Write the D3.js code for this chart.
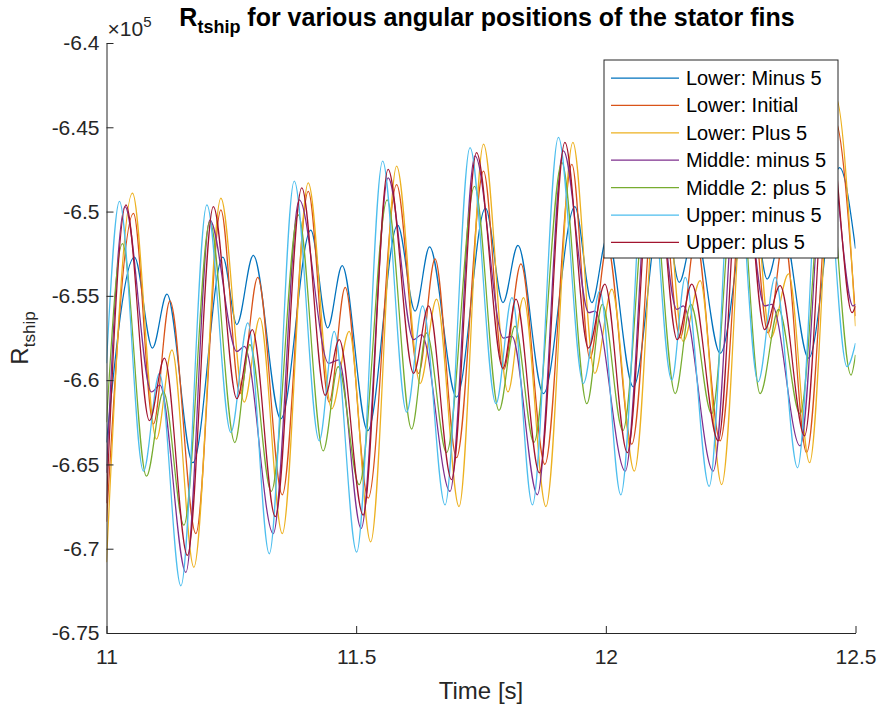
<!DOCTYPE html>
<html>
<head>
<meta charset="utf-8">
<script src="https://cdn.jsdelivr.net/npm/d3@7"></script>
<style>
  html, body { margin: 0; padding: 0; background: #fff; }
  svg { display: block; font-family: "Liberation Sans", Arial, Helvetica, sans-serif; }
</style>
</head>
<body>
<svg id="chart" width="879" height="706"></svg>
<script>
// Resistance R_tship over time, in units of 1e5, as [time (s), value] samples
// taken at the turning points of each signal.
const lowerMinus5 = [
  [11.000,-6.637],[11.056,-6.527],[11.092,-6.581],[11.121,-6.549],[11.173,-6.649],
  [11.233,-6.527],[11.261,-6.567],[11.294,-6.526],[11.349,-6.623],
  [11.409,-6.511],[11.443,-6.569],[11.472,-6.532],[11.523,-6.630],
  [11.583,-6.508],[11.618,-6.559],[11.647,-6.521],[11.701,-6.610],
  [11.759,-6.498],[11.794,-6.554],[11.824,-6.520],[11.875,-6.608],
  [11.938,-6.497],[11.972,-6.554],[12.003,-6.515],[12.055,-6.604],
  [12.114,-6.490],[12.147,-6.542],[12.178,-6.510],[12.229,-6.584],
  [12.290,-6.485],[12.323,-6.540],[12.355,-6.510],[12.406,-6.587],
  [12.468,-6.474],[12.500,-6.522]
];
const lowerInitial = [
  [11.000,-6.684],[11.054,-6.501],[11.094,-6.626],[11.127,-6.553],[11.179,-6.691],
  [11.229,-6.499],[11.267,-6.608],[11.303,-6.539],[11.352,-6.668],
  [11.404,-6.488],[11.446,-6.613],[11.478,-6.545],[11.524,-6.670],
  [11.581,-6.484],[11.625,-6.596],[11.658,-6.528],[11.701,-6.646],
  [11.755,-6.476],[11.795,-6.594],[11.830,-6.531],[11.878,-6.650],
  [11.932,-6.472],[11.968,-6.587],[12.003,-6.520],[12.052,-6.638],
  [12.105,-6.465],[12.149,-6.575],[12.180,-6.515],[12.229,-6.636],
  [12.282,-6.458],[12.325,-6.572],[12.357,-6.515],[12.402,-6.643],
  [12.458,-6.445],[12.500,-6.562]
];
const lowerPlus5 = [
  [11.000,-6.708],[11.052,-6.489],[11.100,-6.635],[11.131,-6.582],[11.175,-6.711],
  [11.229,-6.492],[11.276,-6.613],[11.307,-6.563],[11.352,-6.691],
  [11.404,-6.483],[11.451,-6.617],[11.486,-6.571],[11.529,-6.696],
  [11.581,-6.473],[11.628,-6.602],[11.661,-6.552],[11.706,-6.675],
  [11.755,-6.460],[11.804,-6.607],[11.835,-6.551],[11.880,-6.675],
  [11.934,-6.459],[11.978,-6.596],[12.012,-6.546],[12.057,-6.654],
  [12.110,-6.450],[12.155,-6.577],[12.189,-6.541],[12.232,-6.662],
  [12.285,-6.445],[12.330,-6.575],[12.366,-6.537],[12.408,-6.649],
  [12.460,-6.432],[12.500,-6.568]
];
const middleMinus5 = [
  [11.000,-6.655],[11.037,-6.497],[11.090,-6.607],[11.107,-6.603],[11.159,-6.714],
  [11.207,-6.505],[11.261,-6.583],[11.276,-6.580],[11.334,-6.691],
  [11.386,-6.493],[11.445,-6.590],[11.465,-6.588],[11.510,-6.688],
  [11.564,-6.480],[11.615,-6.576],[11.631,-6.573],[11.688,-6.666],
  [11.738,-6.467],[11.795,-6.575],[11.812,-6.574],[11.863,-6.668],
  [11.915,-6.464],[11.966,-6.560],[11.978,-6.559],[12.039,-6.654],
  [12.092,-6.458],[12.142,-6.558],[12.155,-6.556],[12.215,-6.654],
  [12.268,-6.455],[12.318,-6.556],[12.332,-6.555],[12.389,-6.639],
  [12.443,-6.450],[12.495,-6.556],[12.500,-6.555]
];
const middle2Plus5 = [
  [11.000,-6.625],[11.032,-6.519],[11.080,-6.657],[11.114,-6.607],[11.155,-6.686],
  [11.207,-6.506],[11.257,-6.637],[11.287,-6.579],[11.330,-6.666],
  [11.384,-6.502],[11.434,-6.642],[11.464,-6.592],[11.506,-6.662],
  [11.562,-6.493],[11.611,-6.629],[11.641,-6.572],[11.681,-6.643],
  [11.737,-6.485],[11.786,-6.618],[11.818,-6.568],[11.856,-6.637],
  [11.912,-6.471],[11.962,-6.614],[11.993,-6.555],[12.034,-6.630],
  [12.088,-6.468],[12.139,-6.608],[12.170,-6.555],[12.212,-6.620],
  [12.263,-6.462],[12.309,-6.608],[12.346,-6.558],[12.389,-6.620],
  [12.440,-6.458],[12.491,-6.597],[12.500,-6.585]
];
const upperMinus5 = [
  [11.000,-6.590],[11.026,-6.494],[11.074,-6.654],[11.106,-6.596],[11.149,-6.722],
  [11.201,-6.496],[11.249,-6.631],[11.283,-6.566],[11.326,-6.703],
  [11.376,-6.482],[11.426,-6.636],[11.456,-6.571],[11.501,-6.702],
  [11.553,-6.470],[11.601,-6.619],[11.633,-6.556],[11.678,-6.674],
  [11.728,-6.462],[11.780,-6.614],[11.812,-6.551],[11.853,-6.674],
  [11.905,-6.456],[11.955,-6.602],[11.988,-6.547],[12.030,-6.668],
  [12.082,-6.452],[12.132,-6.600],[12.159,-6.539],[12.207,-6.663],
  [12.257,-6.448],[12.305,-6.601],[12.339,-6.539],[12.384,-6.652],
  [12.433,-6.445],[12.483,-6.592],[12.500,-6.578]
];
const upperPlus5 = [
  [11.000,-6.673],[11.039,-6.496],[11.086,-6.624],[11.116,-6.587],[11.162,-6.704],
  [11.214,-6.497],[11.261,-6.611],[11.292,-6.570],[11.338,-6.681],
  [11.391,-6.486],[11.438,-6.609],[11.466,-6.576],[11.514,-6.680],
  [11.564,-6.475],[11.615,-6.596],[11.645,-6.556],[11.691,-6.659],
  [11.741,-6.465],[11.794,-6.593],[11.820,-6.552],[11.867,-6.655],
  [11.918,-6.459],[11.965,-6.581],[11.998,-6.543],[12.043,-6.643],
  [12.095,-6.455],[12.143,-6.576],[12.172,-6.543],[12.225,-6.636],
  [12.272,-6.452],[12.318,-6.570],[12.349,-6.544],[12.398,-6.633],
  [12.447,-6.447],[12.493,-6.560],[12.500,-6.556]
];

const seriesNames = ["Lower: Minus 5", "Lower: Initial", "Lower: Plus 5", "Middle: minus 5",
                     "Middle 2: plus 5", "Upper: minus 5", "Upper: plus 5"];
const seriesColors = ["#0072BD", "#D95319", "#EDB120", "#7E2F8E", "#77AC30", "#4DBEEE", "#A2142F"];
const seriesData = [lowerMinus5, lowerInitial, lowerPlus5, middleMinus5, middle2Plus5, upperMinus5, upperPlus5];

const xTicks = [11, 11.5, 12, 12.5];
const xTickLabels = ["11", "11.5", "12", "12.5"];
const yTicks = [-6.4, -6.45, -6.5, -6.55, -6.6, -6.65, -6.7, -6.75];
const yTickLabels = ["-6.4", "-6.45", "-6.5", "-6.55", "-6.6", "-6.65", "-6.7", "-6.75"];

const svg = d3.select("#chart");
const plot = { left: 106.5, right: 855.5, top: 43, bottom: 633 };
const axisColor = "#262626";

const x = d3.scaleLinear().domain([11, 12.5]).range([plot.left, plot.right]);
const y = d3.scaleLinear().domain([-6.75, -6.4]).range([plot.bottom, plot.top]);

svg.append("defs").append("clipPath").attr("id", "plotClip")
  .append("rect")
  .attr("x", plot.left).attr("y", plot.top)
  .attr("width", plot.right - plot.left).attr("height", plot.bottom - plot.top);

// signal lines
const line = d3.line()
  .x(d => x(d[0]))
  .y(d => y(d[1]))
  .curve(d3.curveMonotoneX);

const lines = svg.append("g").attr("clip-path", "url(#plotClip)");
seriesData.forEach((data, i) => {
  lines.append("path")
    .datum(data)
    .attr("fill", "none")
    .attr("stroke", seriesColors[i])
    .attr("stroke-width", 1.25)
    .attr("d", line);
});

// axes with inward ticks
const xAxis = d3.axisBottom(x).tickValues(xTicks)
  .tickFormat((d, i) => xTickLabels[i]).tickSizeInner(-7).tickSizeOuter(0).tickPadding(16);
const yAxis = d3.axisLeft(y).tickValues(yTicks)
  .tickFormat((d, i) => yTickLabels[i]).tickSizeInner(-7).tickSizeOuter(0).tickPadding(7);

const gx = svg.append("g").attr("transform", `translate(0,${plot.bottom})`).call(xAxis);
const gy = svg.append("g").attr("transform", `translate(${plot.left},0)`).call(yAxis);
[gx, gy].forEach(g => {
  g.select(".domain").attr("stroke", axisColor).attr("stroke-width", 1);
  g.selectAll(".tick line").attr("stroke", axisColor).attr("stroke-width", 1);
  g.selectAll(".tick text").attr("fill", axisColor)
    .style("font-family", "'Liberation Sans', Arial, sans-serif").style("font-size", "21px");
});

// exponent marker above the y axis
const expo = svg.append("text").attr("x", plot.left + 1).attr("y", 36)
  .attr("fill", axisColor).style("font-size", "21px");
expo.append("tspan").text("\u00D710");
expo.append("tspan").attr("dy", -9).style("font-size", "15px").text("5");

// title
const title = svg.append("text").attr("x", 487).attr("y", 26).attr("text-anchor", "middle")
  .attr("fill", "#000").style("font-size", "25px").style("font-weight", "bold");
title.append("tspan").text("R");
title.append("tspan").attr("dy", 7).style("font-size", "18px").text("tship");
title.append("tspan").attr("dy", -7).text(" for various angular positions of the stator fins");

// axis labels
svg.append("text").attr("x", (plot.left + plot.right) / 2).attr("y", 699)
  .attr("text-anchor", "middle").attr("fill", axisColor).style("font-size", "24px")
  .text("Time [s]");

const ylab = svg.append("text")
  .attr("transform", `translate(28,${(plot.top + plot.bottom) / 2}) rotate(-90)`)
  .attr("text-anchor", "middle").attr("fill", axisColor).style("font-size", "24px");
ylab.append("tspan").text("R");
ylab.append("tspan").attr("dy", 7).style("font-size", "17px").text("tship");

// legend
const legend = { x: 604, y: 60, w: 234, h: 198, rowH: 27.4 };
const lg = svg.append("g");
lg.append("rect").attr("x", legend.x).attr("y", legend.y)
  .attr("width", legend.w).attr("height", legend.h)
  .attr("fill", "#fff").attr("stroke", axisColor).attr("stroke-width", 1);
seriesNames.forEach((name, i) => {
  const cy = legend.y + 18 + i * legend.rowH;
  lg.append("line").attr("x1", legend.x + 7).attr("x2", legend.x + 75)
    .attr("y1", cy).attr("y2", cy)
    .attr("stroke", seriesColors[i]).attr("stroke-width", 1.25);
  lg.append("text").attr("x", legend.x + 82).attr("y", cy + 7)
    .attr("fill", "#000").style("font-size", "20px").text(name);
});
</script>
</body>
</html>
